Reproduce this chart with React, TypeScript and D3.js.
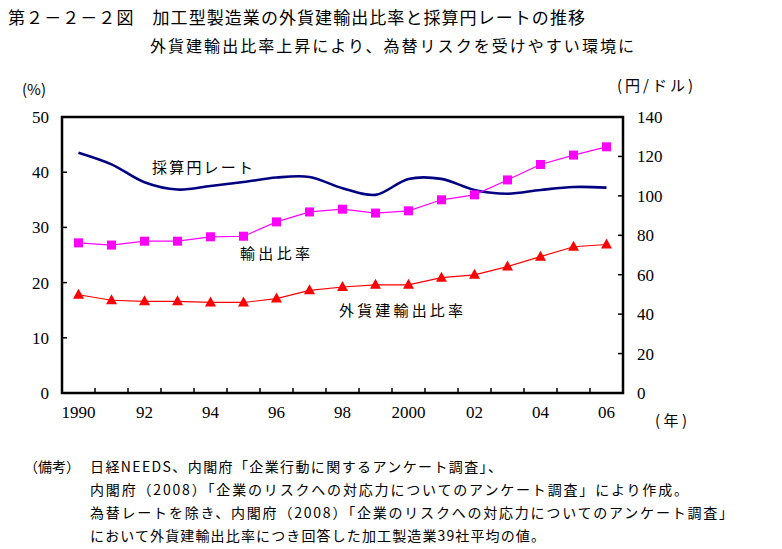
import React from "react";
import * as d3 from "d3";

const years = [1990,1991,1992,1993,1994,1995,1996,1997,1998,1999,2000,2001,2002,2003,2004,2005,2006];
const yearLabels = ["1990","","92","","94","","96","","98","","2000","","02","","04","","06"];
const exportRatio = [27.2,26.8,27.5,27.5,28.3,28.4,31.0,32.8,33.3,32.6,33.0,35.0,35.9,38.6,41.4,43.1,44.6];
const foreignRatio = [17.8,16.8,16.6,16.6,16.4,16.4,17.1,18.6,19.2,19.6,19.6,20.9,21.4,22.9,24.7,26.5,26.9];
const breakEvenRate = [121.9,116.0,106.9,103.2,105.0,107.0,109.3,109.6,103.9,100.5,108.6,108.6,103.0,101.1,103.0,104.5,104.2];
const leftTicks = [0,10,20,30,40,50];
const rightTicks = [0,20,40,60,80,100,120,140];

const title = "第２－２－２図　加工型製造業の外貨建輸出比率と採算円レートの推移";
const subtitle = "外貨建輸出比率上昇により、為替リスクを受けやすい環境に";
const notes = [
  "日経NEEDS、内閣府「企業行動に関するアンケート調査」、",
  "内閣府（2008）「企業のリスクへの対応力についてのアンケート調査」により作成。",
  "為替レートを除き、内閣府（2008）「企業のリスクへの対応力についてのアンケート調査」",
  "において外貨建輸出比率につき回答した加工製造業39社平均の値。",
];
const noteWidths = [412, 598, 643, 455];

const L = 62, R = 623, T = 117, B = 393;
const JP = "'Noto Sans CJK JP', sans-serif";
const NUM = "'Liberation Serif', serif";

export default function App() {
  const x = d3.scaleBand<number>().domain(years).range([L, R]).padding(0);
  const cx = (d: number) => (x(d) as number) + x.bandwidth() / 2;
  const yL = d3.scaleLinear().domain([0, 50]).range([B, T]);
  const yR = d3.scaleLinear().domain([0, 140]).range([B, T]);

  const lineExport = d3.line<number>().x((_, i) => cx(years[i])).y((d) => yL(d));
  const lineRate = d3.line<number>().x((_, i) => cx(years[i])).y((d) => yR(d)).curve(d3.curveCatmullRom.alpha(0.5));

  const boundaries = years.slice(1).map((y) => x(y) as number);

  return (
    <svg width={782} height={549} style={{ position: "absolute", left: 0, top: 0, background: "#fff" }}>
      <rect x={0} y={0} width={782} height={549} fill="#fff" />
      <text x={8} y={24} fontFamily={JP} fontSize={17} textLength={577} lengthAdjust="spacing">{title}</text>
      <text x={150} y={52} fontFamily={JP} fontSize={16} textLength={484} lengthAdjust="spacing">{subtitle}</text>

      <text x={22} y={95} fontFamily={JP} fontSize={15}>(%)</text>
      <text x={617} y={91} fontFamily={JP} fontSize={15} textLength={76} lengthAdjust="spacing">(円/ドル)</text>
      <text x={655} y={426} fontFamily={JP} fontSize={15} textLength={32} lengthAdjust="spacing">(年)</text>

      {leftTicks.map((t) => (
        <g key={"l" + t}>
          <text x={49} y={yL(t) + 6} textAnchor="end" fontFamily={NUM} fontSize={17}>{t}</text>
          {t > 0 && t < 50 && <line x1={L} x2={L + 5} y1={yL(t)} y2={yL(t)} stroke="#000" strokeWidth={1.5} />}
        </g>
      ))}
      {rightTicks.map((t) => (
        <g key={"r" + t}>
          <text x={637} y={yR(t) + 6} textAnchor="start" fontFamily={NUM} fontSize={17}>{t}</text>
          {t > 0 && t < 140 && <line x1={R - 5} x2={R} y1={yR(t)} y2={yR(t)} stroke="#000" strokeWidth={1.5} />}
        </g>
      ))}
      {boundaries.map((b, i) => (
        <line key={"b" + i} x1={b} x2={b} y1={B} y2={B - 5} stroke="#000" strokeWidth={1.5} />
      ))}
      {years.map((y, i) => (
        yearLabels[i] ? <text key={"y" + y} x={cx(y)} y={418} textAnchor="middle" fontFamily={NUM} fontSize={17}>{yearLabels[i]}</text> : null
      ))}

      <path d={lineRate(breakEvenRate) || ""} fill="none" stroke="#000080" strokeWidth={2.6} />
      <path d={lineExport(exportRatio) || ""} fill="none" stroke="#ff00ff" strokeWidth={1.2} />
      <path d={lineExport(foreignRatio) || ""} fill="none" stroke="#ff0000" strokeWidth={1.2} />
      {exportRatio.map((v, i) => (
        <rect key={"s" + i} x={cx(years[i]) - 4.5} y={yL(v) - 4.5} width={9} height={9} fill="#ff00ff" />
      ))}
      {foreignRatio.map((v, i) => {
        const px = cx(years[i]);
        const py = yL(v);
        return <path key={"t" + i} d={`M${px},${py - 6}L${px + 5.5},${py + 4}L${px - 5.5},${py + 4}Z`} fill="#ff0000" />;
      })}

      <rect x={L} y={T} width={R - L} height={B - T} fill="none" stroke="#000" strokeWidth={2.5} />

      <text x={152} y={173} fontFamily={JP} fontSize={15} textLength={101} lengthAdjust="spacing">採算円レート</text>
      <text x={240} y={259} fontFamily={JP} fontSize={15} textLength={70} lengthAdjust="spacing">輸出比率</text>
      <text x={339} y={316} fontFamily={JP} fontSize={15} textLength={124} lengthAdjust="spacing">外貨建輸出比率</text>

      <text x={24} y={472} fontFamily={JP} fontSize={14}>（備考）</text>
      {notes.map((n, i) => (
        <text key={"n" + i} x={90} y={472 + i * 23} fontFamily={JP} fontSize={14} textLength={noteWidths[i]} lengthAdjust="spacing">{n}</text>
      ))}
    </svg>
  );
}
